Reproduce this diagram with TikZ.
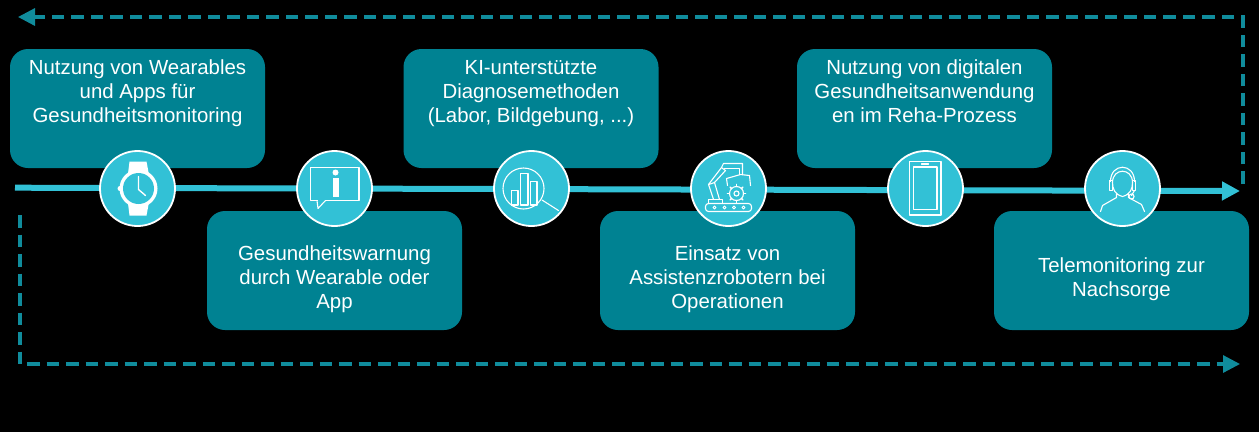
\documentclass[tikz,border=0pt]{standalone}
\usepackage{fontspec}
\setmainfont{Liberation Sans}
\usetikzlibrary{arrows.meta}
\definecolor{boxteal}{RGB}{0,130,146}
\definecolor{dashteal}{RGB}{16,140,156}
\definecolor{lightteal}{RGB}{50,193,214}
\tikzset{
  stepbox/.style={draw=none, fill=boxteal, rounded corners=18pt, minimum width=255pt,
    minimum height=119pt, inner sep=0pt, text=white, align=center,
    font=\fontsize{20.4}{24}\selectfont},
  upperbox/.style={stepbox, text depth=35pt},
  lowerbox/.style={stepbox, text height=#1},
  stepcircle/.style={circle, draw=white, line width=1.8pt, fill=lightteal, minimum size=75pt, inner sep=0pt},
  icon/.style={draw=white, line width=1.1pt, line cap=round, line join=round},
  returnline/.style={draw=dashteal, line width=3.2pt, dash pattern=on 12.5pt off 7pt,
    -{Triangle[length=17pt,width=17pt,fill=dashteal]}},
  pics/watchicon/.style={code={
    \fill[white] (-10,-11) -- (-8,-27) -- (9,-27) -- (12,-11) -- cycle;
    \fill[white] (-10,11) -- (-8,27) -- (9,27) -- (12,11) -- cycle;
    \fill[white] (1,0) circle (19);
    \fill[white] (-17.5,0) circle (2.5);
    \fill[lightteal] (1,0) circle (15.5);
    \draw[icon, line width=1.4pt] (1,-12) -- (1,1) -- (8,7);
  }},
  pics/infoicon/.style={code={
    \draw[icon] (-24,-21) rectangle (24.5,12);
    \fill[lightteal] (-17,11) rectangle (-9,13);
    \draw[icon] (-17.5,12) -- (-16.5,20) -- (-9,12);
    \fill[white] (1,-16) circle (3);
    \fill[white] (-2,-11) -- (4,-11) -- (4,8) -- (-2,8) -- cycle;
  }},
  pics/searchicon/.style={code={
    \draw[icon] (-8,0) circle (20.5);
    \draw[icon] (10.5,11.5) -- (27,22);
    \draw[icon] (-20,2) rectangle (-13.5,16.5);
    \draw[icon] (-11,-15) rectangle (-3.5,16.5);
    \draw[icon] (-1,-7) rectangle (5.5,16.5);
  }},
  pics/roboticon/.style={code={
    \draw[icon, rounded corners=3pt] (-23,15) rectangle (23,23);
    \foreach \iconx in {-14,-4,5.5,15} {\draw[icon, line width=.8pt] (\iconx,19) circle (1.5);}
    \draw[icon] (-20,15) -- (-20,11) -- (-6,11) -- (-6,15);
    \draw[icon] (-15,11) -- (-20,-4) -- (-14,-6) -- (-9,11);
    \draw[icon] (-20,-4) -- (-7,-21) -- (-3,-18) -- (-14,-6);
    \draw[icon] (-7,-21) -- (-5,-25) -- (14,-25) -- (14,-14);
    \draw[icon] (-4,-20) -- (11,-20) -- (11,-14);
    \draw[icon] (-1,-3) -- (-2,-10) -- (12,-14) -- (21,-13) -- (22,-3);
    \draw[icon] (8,5) circle (7);
    \draw[icon] (8,5) circle (2.5);
    \foreach \iconx in {0,45,...,315} {\draw[icon, line width=1.6pt] (8,5) ++(\iconx:7) -- ++(\iconx:2);}
  }},
  pics/phoneicon/.style={code={
    \draw[icon] (-16,-27) rectangle (15.5,26.5);
    \draw[icon] (-12,-21.5) rectangle (11.5,21);
    \draw[icon] (-4,-24.5) -- (3,-24.5);
  }},
  pics/headseticon/.style={code={
    \draw[icon] (-12,-7) .. controls (-12,-26) and (12,-26) .. (12,-7);
    \draw[icon] (-10,-6) .. controls (-10,-21) and (10,-21) .. (10,-6)
      .. controls (10,0) and (8,6) .. (0,8) .. controls (-8,6) and (-10,0) .. (-10,-6);
    \draw[icon] (-13,-8) rectangle (-10,2);
    \draw[icon] (10,-8) rectangle (13,2);
    \draw[icon] (-6,5) -- (-6,9) -- (-20,17) -- (-22,23);
    \draw[icon] (6,5) -- (6,9) -- (19,16) -- (22,23);
    \draw[icon] (12,2) -- (9,7);
    \draw[icon] (9,8) circle (2.5);
  }}
}
\begin{document}
\begin{tikzpicture}[
    x=1pt, y=-1pt,
    node distance=197pt
  ]
  \useasboundingbox[fill=black] (0,0) rectangle (1259,432);
  % return paths
  \coordinate (topstart) at (1243,183.5);
  \coordinate (topcorner) at (1243,17);
  \coordinate (topend) at (18,17);
  \coordinate (lowstart) at (20,215);
  \coordinate (lowcorner) at (20,364);
  \coordinate (lowend) at (1240,364);
  \draw[returnline] (topstart) -- (topcorner) -- (topend);
  \draw[returnline] (lowstart) -- (lowcorner) -- (lowend);
  % boxes
  \node[upperbox] (box1) at (137.5,108.5) {Nutzung von Wearables\\und Apps für\\Gesundheitsmonitoring};
  \node[lowerbox=80pt] (box2) at (334.5,270.5) {Gesundheitswarnung\\durch Wearable oder\\App};
  \node[upperbox] (box3) at (531,108.5) {KI-unterstützte\\Diagnosemethoden\\(Labor, Bildgebung, ...)};
  \node[lowerbox=80pt] (box4) at (727.5,270.5) {Einsatz von\\Assistenzrobotern bei\\Operationen};
  \node[upperbox] (box5) at (924.5,108.5) {Nutzung von digitalen\\Gesundheitsanwendung\\en im Reha-Prozess};
  \node[lowerbox=56pt] (box6) at (1121.5,270.5) {Telemonitoring zur\\Nachsorge};
  % time line
  \coordinate (linestart) at (15,187.7);
  \coordinate (lineend) at (1240,191);
  \draw[lightteal, line width=6pt, -{Triangle[length=18pt,width=18pt,fill=lightteal]}] (linestart) -- (lineend);
  % circles
  \node[stepcircle] (step1) at (137.5,188.5) {};
  \node[stepcircle] (step2) [right of=step1] {};
  \node[stepcircle] (step3) [right of=step2] {};
  \node[stepcircle] (step4) [right of=step3] {};
  \node[stepcircle] (step5) [right of=step4] {};
  \node[stepcircle] (step6) [right of=step5] {};
  % icons
  \pic at (step1) {watchicon};
  \pic at (step2) {infoicon};
  \pic at (step3) {searchicon};
  \pic at (step4) {roboticon};
  \pic at (step5) {phoneicon};
  \pic at (step6) {headseticon};
\end{tikzpicture}
\end{document}
